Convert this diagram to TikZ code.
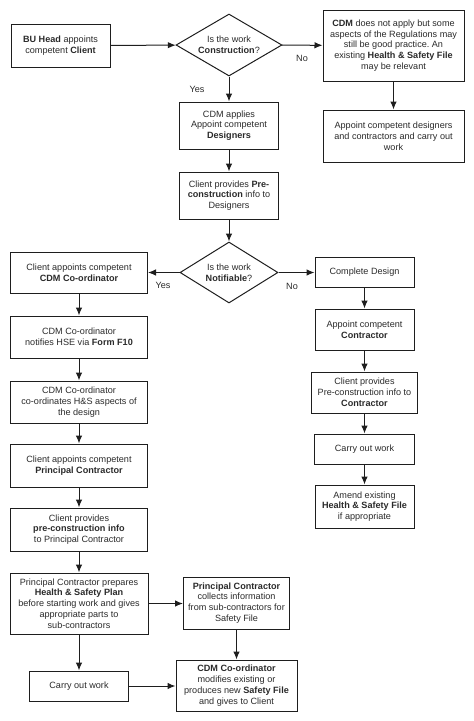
\documentclass[tikz,border=0pt]{standalone}
\usepackage{fontspec}
\setmainfont{Liberation Sans}
\usetikzlibrary{shapes.geometric,arrows.meta}
\definecolor{linec}{HTML}{1E1E1E}
\definecolor{textc}{HTML}{2A2A2A}
\frenchspacing
\begin{document}
\begin{tikzpicture}[x=1pt,y=-1pt,
  txt/.style={font=\fontsize{9.1}{10.8}\selectfont, text=textc, align=center, inner sep=0pt},
  box/.style 2 args={txt, draw=linec, line width=1pt, rectangle, minimum width=#1pt, minimum height=#2pt},
  dia/.style 2 args={txt, draw=linec, line width=1pt, diamond, aspect=1.7, minimum width=#1pt, minimum height=#2pt},
  arr/.style={draw=linec, line width=1pt, -{Latex[length=8pt,width=6.5pt]}},
  lab/.style={txt}
]
\useasboundingbox (0,0) rectangle (474,721);

% top row
\node[box={99}{43}] (bu) at (60.5,45.5) {\textbf{BU Head} appoints\\competent \textbf{Client}};
\node[dia={106}{62}] (d1) at (229,45) {Is the work\\\textbf{Construction}?};
\node[box={141}{71}] (r1) at (393.5,45.5) {\textbf{CDM} does not apply but some\\aspects of the Regulations may\\still be good practice. An\\existing \textbf{Health \& Safety File}\\may be relevant};
\node[box={141}{52}] (r2) at (393.5,136) {Appoint competent designers\\and contractors and carry out\\work};

\node[box={99}{47}] (c1) at (229,125.5) {CDM applies\\Appoint competent\\\textbf{Designers}};
\node[box={99}{47}] (c2) at (229,195.5) {Client provides \textbf{Pre-}\\\textbf{construction} info to\\Designers};
\node[dia={98}{61}] (d2) at (229,272.5) {Is the work\\\textbf{Notifiable}?};

% left column
\node[box={137}{41}] (l1) at (79,272.5) {Client appoints competent\\\textbf{CDM Co-ordinator}};
\node[box={137}{42}] (l2) at (79,337) {CDM Co-ordinator\\notifies HSE via \textbf{Form F10}};
\node[box={137}{42}] (l3) at (79,402) {CDM Co-ordinator\\co-ordinates H\&S aspects of\\the design};
\node[box={137}{43}] (l4) at (79,465.5) {Client appoints competent\\\textbf{Principal Contractor}};
\node[box={137}{43}] (l5) at (79,529.5) {Client provides\\\textbf{pre-construction info}\\to Principal Contractor};
\node[box={138}{61}] (l6) at (79,603.5) {Principal Contractor prepares\\\textbf{Health \& Safety Plan}\\before starting work and gives\\appropriate parts to\\sub-contractors};
\node[box={99}{30}] (l7) at (79,686) {Carry out work};

% middle bottom
\node[box={106}{52}] (m1) at (236.5,603) {\textbf{Principal Contractor}\\collects information\\from sub-contractors for\\Safety File};
\node[box={121}{51}] (m2) at (236.5,685.5) {\textbf{CDM Co-ordinator}\\modifies existing or\\produces new \textbf{Safety File}\\and gives to Client};

% right column
\node[box={99}{30}] (q1) at (364.5,272.5) {Complete Design};
\node[box={99}{41}] (q2) at (364.5,329.5) {Appoint competent\\\textbf{Contractor}};
\node[box={106}{41}] (q3) at (364.5,392.5) {Client provides\\Pre-construction info to\\\textbf{Contractor}};
\node[box={100}{30}] (q4) at (364.5,449) {Carry out work};
\node[box={99}{43}] (q5) at (364.5,506.5) {Amend existing\\\textbf{Health \& Safety File}\\if appropriate};

% labels
\node[lab] (yes1) at (197,89) {Yes};
\node[lab] (no1) at (302,58) {No};
\node[lab] (yes2) at (163,285) {Yes};
\node[lab] (no2) at (292,286) {No};

% connectors
\draw[arr] (bu) -- (d1);
\draw[arr] (d1) -- (r1);
\draw[arr] (r1) -- (r2);
\draw[arr] (d1) -- (c1);
\draw[arr] (c1) -- (c2);
\draw[arr] (c2) -- (d2);
\draw[arr] (d2) -- (l1);
\draw[arr] (d2) -- (q1);
\draw[arr] (l1) -- (l2);
\draw[arr] (l2) -- (l3);
\draw[arr] (l3) -- (l4);
\draw[arr] (l4) -- (l5);
\draw[arr] (l5) -- (l6);
\draw[arr] (l6) -- (l7);
\draw[arr] (l6) -- (l6 -| m1.west);
\draw[arr] (l7) -- (l7 -| m2.west);
\draw[arr] (m1) -- (m2);
\draw[arr] (q1) -- (q2);
\draw[arr] (q2) -- (q3);
\draw[arr] (q3) -- (q4);
\draw[arr] (q4) -- (q5);
\end{tikzpicture}
\end{document}
